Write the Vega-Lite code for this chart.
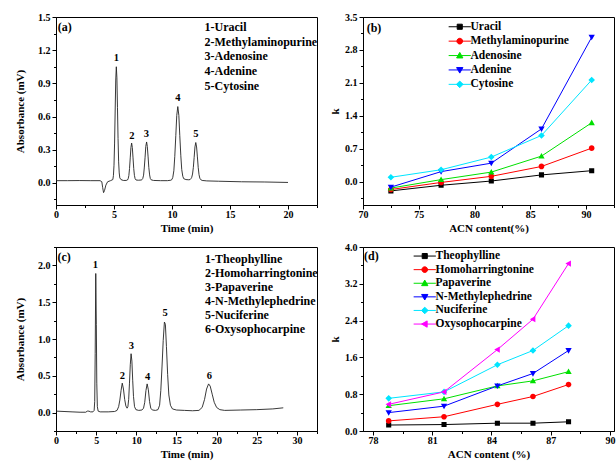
{
  "$schema": "https://vega.github.io/schema/vega-lite/v6.json",
  "padding": {"left": 14, "top": 11, "right": 1, "bottom": 2},
  "background": "white",
  "config": {
    "font": "Liberation Serif",
    "view": {"stroke": "black", "strokeWidth": 1},
    "axis": {"labelFont": "Liberation Serif", "labelFontWeight": "bold", "labelFontSize": 10, "labelColor": "#000", "titleFont": "Liberation Serif", "titleFontWeight": "bold", "titleFontSize": 11, "titleColor": "#000", "domainColor": "#000", "tickColor": "#000", "tickSize": 4, "grid": false, "labelOverlap": false, "labelFlush": false, "labelPadding": 2},
    "axisX": {"titlePadding": 3, "labelPadding": 0},
    "legend": {"labelFont": "Liberation Serif", "labelFontWeight": "bold", "labelFontSize": 11.5, "labelColor": "#000", "symbolStrokeWidth": 1}
  },
  "datasets": {
    "traceA": [
      {"t": 0, "a": 0.02}, {"t": 1, "a": 0.02}, {"t": 2, "a": 0.021}, {"t": 3, "a": 0.02}, {"t": 3.8, "a": 0.02}, {"t": 3.95, "a": 0.01}, {"t": 4.02, "a": -0.04}, {"t": 4.1, "a": -0.088}, {"t": 4.18, "a": -0.07}, {"t": 4.3, "a": -0.02}, {"t": 4.45, "a": 0.01}, {"t": 4.7, "a": 0.02}, {"t": 4.9, "a": 0.03}, {"t": 4.95, "a": 0.065}, {"t": 5.0, "a": 0.16}, {"t": 5.05, "a": 0.36}, {"t": 5.1, "a": 0.65}, {"t": 5.15, "a": 0.93}, {"t": 5.2, "a": 1.05}, {"t": 5.25, "a": 0.95}, {"t": 5.3, "a": 0.68}, {"t": 5.35, "a": 0.4}, {"t": 5.4, "a": 0.19}, {"t": 5.45, "a": 0.09}, {"t": 5.5, "a": 0.045}, {"t": 5.6, "a": 0.03}, {"t": 5.8, "a": 0.022}, {"t": 6.05, "a": 0.022},
      {"t": 6.16, "a": 0.026}, {"t": 6.22, "a": 0.037}, {"t": 6.28, "a": 0.066}, {"t": 6.34, "a": 0.13}, {"t": 6.4, "a": 0.226}, {"t": 6.46, "a": 0.32}, {"t": 6.52, "a": 0.36}, {"t": 6.58, "a": 0.32}, {"t": 6.64, "a": 0.226}, {"t": 6.7, "a": 0.13}, {"t": 6.76, "a": 0.068}, {"t": 6.82, "a": 0.038}, {"t": 6.9, "a": 0.026}, {"t": 7.1, "a": 0.024}, {"t": 7.35, "a": 0.026},
      {"t": 7.42, "a": 0.03}, {"t": 7.48, "a": 0.04}, {"t": 7.55, "a": 0.07}, {"t": 7.61, "a": 0.135}, {"t": 7.68, "a": 0.232}, {"t": 7.74, "a": 0.33}, {"t": 7.81, "a": 0.37}, {"t": 7.87, "a": 0.33}, {"t": 7.94, "a": 0.235}, {"t": 8.0, "a": 0.14}, {"t": 8.07, "a": 0.072}, {"t": 8.13, "a": 0.04}, {"t": 8.2, "a": 0.028}, {"t": 8.4, "a": 0.022}, {"t": 9.0, "a": 0.02}, {"t": 9.6, "a": 0.02}, {"t": 9.9, "a": 0.024},
      {"t": 9.99, "a": 0.03}, {"t": 10.07, "a": 0.05}, {"t": 10.16, "a": 0.11}, {"t": 10.24, "a": 0.24}, {"t": 10.33, "a": 0.43}, {"t": 10.41, "a": 0.61}, {"t": 10.5, "a": 0.69}, {"t": 10.59, "a": 0.61}, {"t": 10.67, "a": 0.43}, {"t": 10.76, "a": 0.245}, {"t": 10.84, "a": 0.12}, {"t": 10.93, "a": 0.06}, {"t": 11.01, "a": 0.038}, {"t": 11.2, "a": 0.03}, {"t": 11.45, "a": 0.028},
      {"t": 11.56, "a": 0.03}, {"t": 11.63, "a": 0.038}, {"t": 11.7, "a": 0.05}, {"t": 11.77, "a": 0.08}, {"t": 11.84, "a": 0.14}, {"t": 11.91, "a": 0.23}, {"t": 11.98, "a": 0.325}, {"t": 12.05, "a": 0.365}, {"t": 12.12, "a": 0.325}, {"t": 12.19, "a": 0.235}, {"t": 12.26, "a": 0.14}, {"t": 12.33, "a": 0.075}, {"t": 12.4, "a": 0.042}, {"t": 12.47, "a": 0.03}, {"t": 12.6, "a": 0.022}, {"t": 13.0, "a": 0.018}, {"t": 14, "a": 0.015}, {"t": 16, "a": 0.01}, {"t": 18, "a": 0.008}, {"t": 20, "a": 0.004}
    ],
    "peaksA": [
      {"label": "1", "t": 5.2, "a": 1.13}, {"label": "2", "t": 6.55, "a": 0.42}, {"label": "3", "t": 7.8, "a": 0.44}, {"label": "4", "t": 10.5, "a": 0.77}, {"label": "5", "t": 12.05, "a": 0.445}
    ],
    "namesA": [
      {"label": "(a)", "t": 0.15, "a": 1.41},
      {"label": "1-Uracil", "t": 12.8, "a": 1.41},
      {"label": "2-Methylaminopurine", "t": 12.8, "a": 1.278},
      {"label": "3-Adenosine", "t": 12.8, "a": 1.145},
      {"label": "4-Adenine", "t": 12.8, "a": 1.01},
      {"label": "5-Cytosine", "t": 12.8, "a": 0.877}
    ],
    "kB": [
      {"x": 72.5, "k": -0.2, "s": "Uracil"}, {"x": 77, "k": -0.08, "s": "Uracil"}, {"x": 81.5, "k": 0.01, "s": "Uracil"}, {"x": 86, "k": 0.14, "s": "Uracil"}, {"x": 90.5, "k": 0.23, "s": "Uracil"},
      {"x": 72.5, "k": -0.17, "s": "Methylaminopurine"}, {"x": 77, "k": -0.02, "s": "Methylaminopurine"}, {"x": 81.5, "k": 0.11, "s": "Methylaminopurine"}, {"x": 86, "k": 0.32, "s": "Methylaminopurine"}, {"x": 90.5, "k": 0.71, "s": "Methylaminopurine"},
      {"x": 72.5, "k": -0.14, "s": "Adenosine"}, {"x": 77, "k": 0.04, "s": "Adenosine"}, {"x": 81.5, "k": 0.2, "s": "Adenosine"}, {"x": 86, "k": 0.54, "s": "Adenosine"}, {"x": 90.5, "k": 1.25, "s": "Adenosine"},
      {"x": 72.5, "k": -0.12, "s": "Adenine"}, {"x": 77, "k": 0.21, "s": "Adenine"}, {"x": 81.5, "k": 0.39, "s": "Adenine"}, {"x": 86, "k": 1.12, "s": "Adenine"}, {"x": 90.5, "k": 3.07, "s": "Adenine"},
      {"x": 72.5, "k": 0.09, "s": "Cytosine"}, {"x": 77, "k": 0.25, "s": "Cytosine"}, {"x": 81.5, "k": 0.52, "s": "Cytosine"}, {"x": 86, "k": 0.98, "s": "Cytosine"}, {"x": 90.5, "k": 2.16, "s": "Cytosine"}
    ],
    "labB": [{"label": "(b)", "x": 70.33, "k": 3.27}],
    "traceC": [
      {"t": 0, "a": 0.02}, {"t": 1, "a": 0.015}, {"t": 2, "a": 0.01}, {"t": 3, "a": 0.005}, {"t": 3.7, "a": 0.005}, {"t": 3.9, "a": 0.02}, {"t": 4.1, "a": 0.02}, {"t": 4.3, "a": 0.01}, {"t": 4.6, "a": 0.01}, {"t": 4.75, "a": 0.03}, {"t": 4.82, "a": 0.15}, {"t": 4.88, "a": 0.8}, {"t": 4.95, "a": 1.89}, {"t": 5.02, "a": 1.2}, {"t": 5.08, "a": 0.4}, {"t": 5.15, "a": 0.08}, {"t": 5.25, "a": 0.02}, {"t": 5.5, "a": 0.01}, {"t": 6.5, "a": 0.01}, {"t": 7.3, "a": 0.015},
      {"t": 7.6, "a": 0.03}, {"t": 7.8, "a": 0.08}, {"t": 7.95, "a": 0.17}, {"t": 8.1, "a": 0.3}, {"t": 8.25, "a": 0.4}, {"t": 8.4, "a": 0.32}, {"t": 8.55, "a": 0.18}, {"t": 8.7, "a": 0.09}, {"t": 8.85, "a": 0.06},
      {"t": 8.95, "a": 0.08}, {"t": 9.05, "a": 0.18}, {"t": 9.15, "a": 0.4}, {"t": 9.25, "a": 0.65}, {"t": 9.35, "a": 0.8}, {"t": 9.45, "a": 0.7}, {"t": 9.55, "a": 0.44}, {"t": 9.65, "a": 0.22}, {"t": 9.78, "a": 0.08}, {"t": 9.95, "a": 0.04}, {"t": 10.3, "a": 0.03},
      {"t": 10.7, "a": 0.035}, {"t": 10.9, "a": 0.06}, {"t": 11.05, "a": 0.14}, {"t": 11.2, "a": 0.3}, {"t": 11.35, "a": 0.39}, {"t": 11.5, "a": 0.31}, {"t": 11.65, "a": 0.15}, {"t": 11.8, "a": 0.06}, {"t": 12.0, "a": 0.035}, {"t": 12.4, "a": 0.03},
      {"t": 12.7, "a": 0.04}, {"t": 12.9, "a": 0.1}, {"t": 13.05, "a": 0.3}, {"t": 13.2, "a": 0.62}, {"t": 13.35, "a": 0.98}, {"t": 13.5, "a": 1.23}, {"t": 13.62, "a": 1.2}, {"t": 13.75, "a": 0.9}, {"t": 13.9, "a": 0.52}, {"t": 14.05, "a": 0.24}, {"t": 14.25, "a": 0.1}, {"t": 14.5, "a": 0.05}, {"t": 15, "a": 0.035}, {"t": 16, "a": 0.03}, {"t": 17, "a": 0.025},
      {"t": 17.8, "a": 0.03}, {"t": 18.2, "a": 0.07}, {"t": 18.5, "a": 0.18}, {"t": 18.75, "a": 0.32}, {"t": 19.0, "a": 0.39}, {"t": 19.2, "a": 0.36}, {"t": 19.45, "a": 0.25}, {"t": 19.7, "a": 0.14}, {"t": 20.0, "a": 0.07}, {"t": 20.4, "a": 0.04}, {"t": 21, "a": 0.03}, {"t": 23, "a": 0.035}, {"t": 25, "a": 0.04}, {"t": 27, "a": 0.05}, {"t": 28.3, "a": 0.065}
    ],
    "peaksC": [
      {"label": "1", "t": 4.9, "a": 2.0}, {"label": "2", "t": 8.25, "a": 0.5}, {"label": "3", "t": 9.4, "a": 0.9}, {"label": "4", "t": 11.4, "a": 0.48}, {"label": "5", "t": 13.6, "a": 1.35}, {"label": "6", "t": 19.1, "a": 0.5}
    ],
    "namesC": [
      {"label": "(c)", "t": 0.19, "a": 2.12},
      {"label": "1-Theophylline", "t": 18.55, "a": 2.09},
      {"label": "2-Homoharringtonine", "t": 18.55, "a": 1.9},
      {"label": "3-Papaverine", "t": 18.55, "a": 1.71},
      {"label": "4-N-Methylephedrine", "t": 18.55, "a": 1.52},
      {"label": "5-Nuciferine", "t": 18.55, "a": 1.33},
      {"label": "6-Oxysophocarpine", "t": 18.55, "a": 1.14}
    ],
    "kD": [
      {"x": 78.8, "k": 0.13, "s": "Theophylline"}, {"x": 81.6, "k": 0.14, "s": "Theophylline"}, {"x": 84.3, "k": 0.17, "s": "Theophylline"}, {"x": 86.1, "k": 0.17, "s": "Theophylline"}, {"x": 87.9, "k": 0.2, "s": "Theophylline"},
      {"x": 78.8, "k": 0.22, "s": "Homoharringtonine"}, {"x": 81.6, "k": 0.31, "s": "Homoharringtonine"}, {"x": 84.3, "k": 0.58, "s": "Homoharringtonine"}, {"x": 86.1, "k": 0.75, "s": "Homoharringtonine"}, {"x": 87.9, "k": 1.01, "s": "Homoharringtonine"},
      {"x": 78.8, "k": 0.55, "s": "Papaverine"}, {"x": 81.6, "k": 0.7, "s": "Papaverine"}, {"x": 84.3, "k": 0.98, "s": "Papaverine"}, {"x": 86.1, "k": 1.09, "s": "Papaverine"}, {"x": 87.9, "k": 1.29, "s": "Papaverine"},
      {"x": 78.8, "k": 0.4, "s": "N-Methylephedrine"}, {"x": 81.6, "k": 0.54, "s": "N-Methylephedrine"}, {"x": 84.3, "k": 0.98, "s": "N-Methylephedrine"}, {"x": 86.1, "k": 1.25, "s": "N-Methylephedrine"}, {"x": 87.9, "k": 1.75, "s": "N-Methylephedrine"},
      {"x": 78.8, "k": 0.71, "s": "Nuciferine"}, {"x": 81.6, "k": 0.85, "s": "Nuciferine"}, {"x": 84.3, "k": 1.44, "s": "Nuciferine"}, {"x": 86.1, "k": 1.75, "s": "Nuciferine"}, {"x": 87.9, "k": 2.29, "s": "Nuciferine"},
      {"x": 78.8, "k": 0.58, "s": "Oxysophocarpine"}, {"x": 81.6, "k": 0.85, "s": "Oxysophocarpine"}, {"x": 84.3, "k": 1.77, "s": "Oxysophocarpine"}, {"x": 86.1, "k": 2.43, "s": "Oxysophocarpine"}, {"x": 87.9, "k": 3.64, "s": "Oxysophocarpine"}
    ],
    "labD": [{"label": "(d)", "x": 77.55, "k": 3.8}]
  },
  "resolve": {"scale": {"color": "independent", "shape": "independent"}},
  "columns": 2,
  "spacing": {"column": 11, "row": 7},
  "concat": [
    {
      "width": 261, "height": 188,
      "resolve": {"axis": {"x": "independent", "y": "independent"}},
      "layer": [
        {
          "data": {"name": "traceA"},
          "mark": {"type": "line", "color": "#222", "strokeWidth": 0.9},
          "encoding": {
            "x": {"field": "t", "type": "quantitative", "scale": {"domain": [0, 22.5], "nice": false, "zero": false}, "axis": {"orient": "bottom", "title": "Time (min)", "values": [0, 5, 10, 15, 20], "format": "d"}},
            "y": {"field": "a", "type": "quantitative", "scale": {"domain": [-0.2, 1.5], "nice": false, "zero": false}, "axis": {"orient": "left", "title": "Absorbance (mV)", "titlePadding": 12, "values": [0, 0.3, 0.6, 0.9, 1.2, 1.5], "format": ".1f"}}
          }
        },
        {
          "data": {"name": "peaksA"},
          "mark": {"type": "text", "font": "Liberation Serif", "fontWeight": "bold", "fontSize": 10.5, "color": "#000", "baseline": "middle"},
          "encoding": {
            "x": {"field": "t", "type": "quantitative", "axis": {"orient": "bottom", "title": null, "labels": false, "domain": false, "tickSize": 2.5, "values": [2.5, 7.5, 12.5, 17.5, 22.5]}},
            "y": {"field": "a", "type": "quantitative", "axis": {"orient": "left", "title": null, "labels": false, "domain": false, "tickSize": 2.5, "values": [-0.15, 0.15, 0.45, 0.75, 1.05, 1.35]}},
            "text": {"field": "label"}
          }
        },
        {
          "data": {"name": "namesA"},
          "mark": {"type": "text", "font": "Liberation Serif", "fontWeight": "bold", "fontSize": 12, "color": "#000", "align": "left", "baseline": "middle", "clip": true},
          "encoding": {"x": {"field": "t", "type": "quantitative", "axis": null}, "y": {"field": "a", "type": "quantitative", "axis": null}, "text": {"field": "label"}}
        }
      ]
    },
    {
      "width": 251, "height": 188,
      "resolve": {"axis": {"x": "independent", "y": "independent"}},
      "layer": [
        {
          "data": {"name": "kB"},
          "mark": {"type": "line", "strokeWidth": 1},
          "encoding": {
            "x": {"field": "x", "type": "quantitative", "scale": {"domain": [70, 92.5], "nice": false, "zero": false}, "axis": {"orient": "bottom", "title": "ACN content(%)", "values": [70, 75, 80, 85, 90], "format": "d"}},
            "y": {"field": "k", "type": "quantitative", "scale": {"domain": [-0.5, 3.5], "nice": false, "zero": false}, "axis": {"orient": "left", "title": "k", "titlePadding": 4, "values": [0, 0.7, 1.4, 2.1, 2.8, 3.5], "format": ".1f"}},
            "color": {"field": "s", "type": "nominal", "scale": {"domain": ["Uracil", "Methylaminopurine", "Adenosine", "Adenine", "Cytosine"], "range": ["#000000", "#ff0000", "#00e000", "#0000ff", "#00e5ff"]}, "legend": {"title": null, "orient": "none", "legendX": 91, "legendY": 4, "symbolSize": 36, "labelOffset": 5, "rowPadding": 1.4}}
          }
        },
        {
          "data": {"name": "kB"},
          "mark": {"type": "point", "filled": true, "size": 36, "opacity": 1},
          "encoding": {
            "x": {"field": "x", "type": "quantitative", "axis": null},
            "y": {"field": "k", "type": "quantitative", "axis": null},
            "color": {"field": "s", "type": "nominal", "legend": {"title": null, "orient": "none", "legendX": 91, "legendY": 4, "symbolSize": 36, "labelOffset": 5, "rowPadding": 1.4}},
            "shape": {"field": "s", "type": "nominal", "scale": {"domain": ["Uracil", "Methylaminopurine", "Adenosine", "Adenine", "Cytosine"], "range": ["M-3.7,0H3.7M-0.85,-0.85H0.85V0.85H-0.85Z", "M-3.7,0H3.7M-0.95,0A0.95,0.95,0,1,0,0.95,0A0.95,0.95,0,1,0,-0.95,0Z", "M-3.7,0H3.7M0,-1.05L1.05,0.8L-1.05,0.8Z", "M-3.7,0H3.7M0,1.05L1.05,-0.8L-1.05,-0.8Z", "M-3.7,0H3.7M0,-1.1L1.1,0L0,1.1L-1.1,0Z"]}, "legend": {"title": null, "orient": "none", "legendX": 91, "legendY": 4, "symbolSize": 36, "labelOffset": 5, "rowPadding": 1.4}}
          }
        },
        {
          "data": {"name": "labB"},
          "mark": {"type": "text", "font": "Liberation Serif", "fontWeight": "bold", "fontSize": 12, "color": "#000", "align": "left", "baseline": "middle"},
          "encoding": {
            "x": {"field": "x", "type": "quantitative", "axis": {"orient": "bottom", "title": null, "labels": false, "domain": false, "tickSize": 2.5, "values": [72.5, 77.5, 82.5, 87.5, 92.5]}},
            "y": {"field": "k", "type": "quantitative", "axis": {"orient": "left", "title": null, "labels": false, "domain": false, "tickSize": 2.5, "values": [-0.35, 0.35, 1.05, 1.75, 2.45, 3.15]}},
            "text": {"field": "label"}
          }
        }
      ]
    },
    {
      "width": 261, "height": 184,
      "resolve": {"axis": {"x": "independent", "y": "independent"}},
      "layer": [
        {
          "data": {"name": "traceC"},
          "mark": {"type": "line", "color": "#222", "strokeWidth": 0.9},
          "encoding": {
            "x": {"field": "t", "type": "quantitative", "scale": {"domain": [0, 32.5], "nice": false, "zero": false}, "axis": {"orient": "bottom", "title": "Time (min)", "values": [0, 5, 10, 15, 20, 25, 30], "format": "d"}},
            "y": {"field": "a", "type": "quantitative", "scale": {"domain": [-0.25, 2.25], "nice": false, "zero": false}, "axis": {"orient": "left", "title": "Absorbance (mV)", "titlePadding": 12, "values": [0, 0.5, 1, 1.5, 2], "format": ".1f"}}
          }
        },
        {
          "data": {"name": "peaksC"},
          "mark": {"type": "text", "font": "Liberation Serif", "fontWeight": "bold", "fontSize": 10.5, "color": "#000", "baseline": "middle"},
          "encoding": {
            "x": {"field": "t", "type": "quantitative", "axis": {"orient": "bottom", "title": null, "labels": false, "domain": false, "tickSize": 2.5, "values": [2.5, 7.5, 12.5, 17.5, 22.5, 27.5, 32.5]}},
            "y": {"field": "a", "type": "quantitative", "axis": {"orient": "left", "title": null, "labels": false, "domain": false, "tickSize": 2.5, "values": [-0.25, 0.25, 0.75, 1.25, 1.75, 2.25]}},
            "text": {"field": "label"}
          }
        },
        {
          "data": {"name": "namesC"},
          "mark": {"type": "text", "font": "Liberation Serif", "fontWeight": "bold", "fontSize": 12, "color": "#000", "align": "left", "baseline": "middle", "clip": true},
          "encoding": {"x": {"field": "t", "type": "quantitative", "axis": null}, "y": {"field": "a", "type": "quantitative", "axis": null}, "text": {"field": "label"}}
        }
      ]
    },
    {
      "width": 251, "height": 184,
      "resolve": {"axis": {"x": "independent", "y": "independent"}},
      "layer": [
        {
          "data": {"name": "kD"},
          "mark": {"type": "line", "strokeWidth": 1},
          "encoding": {
            "x": {"field": "x", "type": "quantitative", "scale": {"domain": [77.5, 90.2], "nice": false, "zero": false}, "axis": {"orient": "bottom", "title": "ACN content (%)", "values": [78, 81, 84, 87, 90], "format": "d"}},
            "y": {"field": "k", "type": "quantitative", "scale": {"domain": [0, 4], "nice": false, "zero": false}, "axis": {"orient": "left", "title": "k", "titlePadding": 4, "values": [0, 0.8, 1.6, 2.4, 3.2, 4], "format": ".1f"}},
            "color": {"field": "s", "type": "nominal", "scale": {"domain": ["Theophylline", "Homoharringtonine", "Papaverine", "N-Methylephedrine", "Nuciferine", "Oxysophocarpine"], "range": ["#000000", "#ff0000", "#00e000", "#0000ff", "#00e5ff", "#ff00ff"]}, "legend": {"title": null, "orient": "none", "legendX": 56, "legendY": 3.3, "symbolSize": 36, "labelOffset": 5, "rowPadding": 0.6}}
          }
        },
        {
          "data": {"name": "kD"},
          "mark": {"type": "point", "filled": true, "size": 36, "opacity": 1},
          "encoding": {
            "x": {"field": "x", "type": "quantitative", "axis": null},
            "y": {"field": "k", "type": "quantitative", "axis": null},
            "color": {"field": "s", "type": "nominal", "legend": {"title": null, "orient": "none", "legendX": 56, "legendY": 3.3, "symbolSize": 36, "labelOffset": 5, "rowPadding": 0.6}},
            "shape": {"field": "s", "type": "nominal", "scale": {"domain": ["Theophylline", "Homoharringtonine", "Papaverine", "N-Methylephedrine", "Nuciferine", "Oxysophocarpine"], "range": ["M-3.7,0H3.7M-0.85,-0.85H0.85V0.85H-0.85Z", "M-3.7,0H3.7M-0.95,0A0.95,0.95,0,1,0,0.95,0A0.95,0.95,0,1,0,-0.95,0Z", "M-3.7,0H3.7M0,-1.05L1.05,0.8L-1.05,0.8Z", "M-3.7,0H3.7M0,1.05L1.05,-0.8L-1.05,-0.8Z", "M-3.7,0H3.7M0,-1.1L1.1,0L0,1.1L-1.1,0Z", "M-3.7,0H3.7M-1.05,0L0.8,-1.05L0.8,1.05Z"]}, "legend": {"title": null, "orient": "none", "legendX": 56, "legendY": 3.3, "symbolSize": 36, "labelOffset": 5, "rowPadding": 0.6}}
          }
        },
        {
          "data": {"name": "labD"},
          "mark": {"type": "text", "font": "Liberation Serif", "fontWeight": "bold", "fontSize": 12, "color": "#000", "align": "left", "baseline": "middle"},
          "encoding": {
            "x": {"field": "x", "type": "quantitative", "axis": {"orient": "bottom", "title": null, "labels": false, "domain": false, "tickSize": 2.5, "values": [79.5, 82.5, 85.5, 88.5]}},
            "y": {"field": "k", "type": "quantitative", "axis": {"orient": "left", "title": null, "labels": false, "domain": false, "tickSize": 2.5, "values": [0.4, 1.2, 2, 2.8, 3.6]}},
            "text": {"field": "label"}
          }
        }
      ]
    }
  ]
}
